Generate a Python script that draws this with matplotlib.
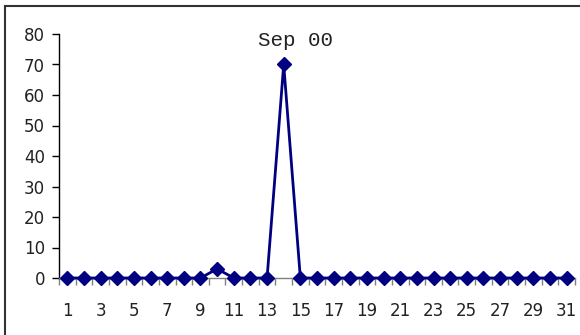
import matplotlib
matplotlib.use("Agg")
import matplotlib.pyplot as plt
from matplotlib.lines import Line2D
from matplotlib.ticker import FixedLocator, NullFormatter

days = list(range(1, 32))
values = [0, 0, 0, 0, 0, 0, 0, 0, 0, 3, 0, 0, 0, 70, 0,
          0, 0, 0, 0, 0, 0, 0, 0, 0, 0, 0, 0, 0, 0, 0, 0]
yticks = [0, 10, 20, 30, 40, 50, 60, 70, 80]
xlabels = [str(d) for d in days]
title = "Sep 00"

W, H = 580, 335
fig = plt.figure(figsize=(W / 100, H / 100), dpi=100)
ax = fig.add_axes([59 / W, (H - 278) / H, (575 - 59) / W, (278 - 34) / H])

ax.plot(days, values, color="#000080", lw=2, marker="D", ms=6.8,
        markerfacecolor="#000080", markeredgecolor="#000080", clip_on=False, zorder=5)

ax.set_xlim(0.5, 31.5)
ax.set_ylim(0, 80)
ax.set_yticks(yticks)
ax.set_yticklabels([str(v) for v in yticks])

ax.set_xticks(days)
ax.set_xticklabels([l if i % 2 == 0 else "" for i, l in enumerate(xlabels)])
ax.tick_params(axis="x", which="major", length=0, pad=17, labelsize=12, colors="#222222")
ax.xaxis.set_minor_locator(FixedLocator([d + 0.5 for d in [0] + days]))
ax.xaxis.set_minor_formatter(NullFormatter())
ax.tick_params(axis="x", which="minor", length=5, width=1, color="#808080", direction="out")
ax.tick_params(axis="y", length=5, width=1, color="black", labelsize=12, pad=5,
               labelcolor="#222222")

for s in ["top", "right"]:
    ax.spines[s].set_visible(False)
ax.spines["bottom"].set_color("#808080")
ax.spines["bottom"].set_linewidth(1)
ax.spines["left"].set_color("black")
ax.spines["left"].set_linewidth(1)

fig.text(295 / W, 1 - 40 / H, title, family="Liberation Mono", fontsize=15,
         ha="center", va="center", color="#222222")

# figure border (left and top only visible)
fig.add_artist(Line2D([4.5 / W, 4.5 / W], [0, 1 - 5.5 / H], transform=fig.transFigure,
                      color="#333333", lw=1.5))
fig.add_artist(Line2D([4.5 / W, 1], [1 - 5.5 / H, 1 - 5.5 / H], transform=fig.transFigure,
                      color="#333333", lw=1.5))

fig.savefig("out.png", dpi=100)
